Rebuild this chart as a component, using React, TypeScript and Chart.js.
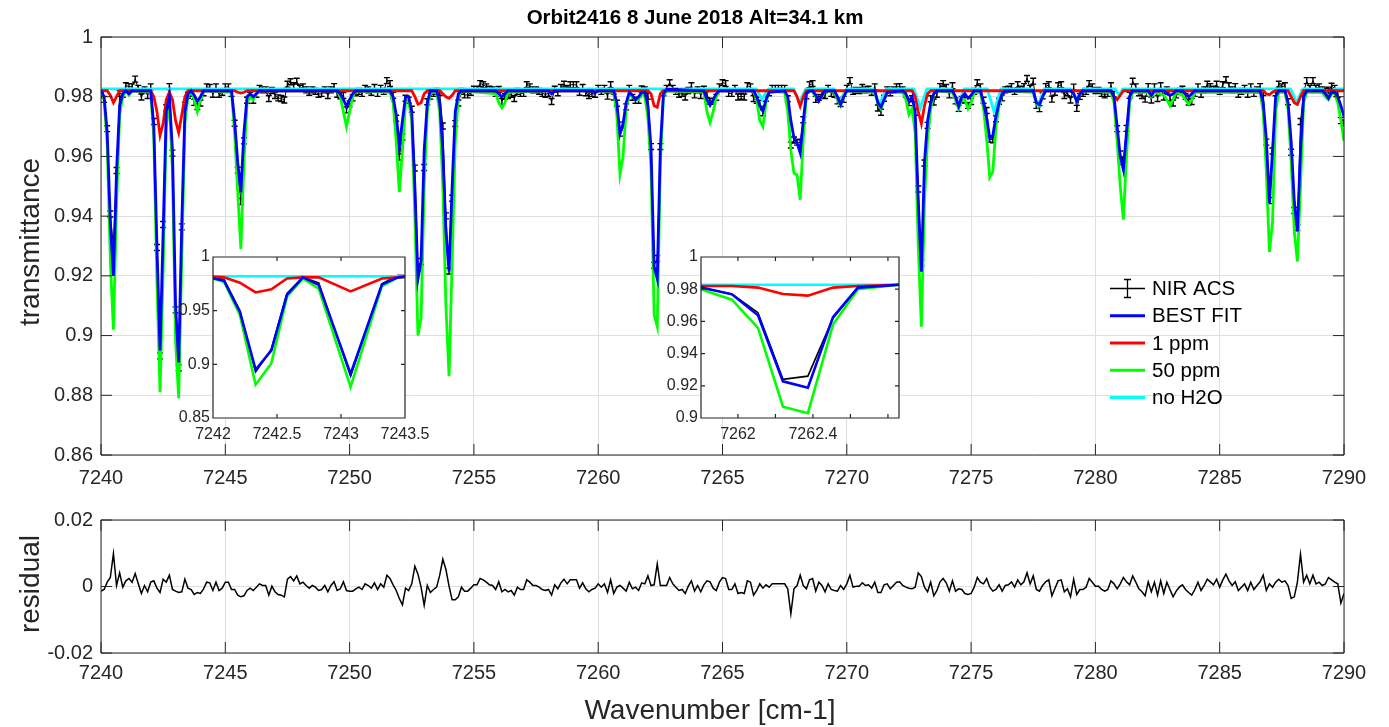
import React, { useEffect, useRef } from "react";
import { Chart, registerables } from "chart.js";

Chart.register(...registerables);

const FONT = "'Liberation Sans', Arial, Helvetica, sans-serif";
const INK = "#262626";
const GRID = "#dfdfdf";
const BLUE = "#0000ff";
const RED = "#ff0000";
const GREEN = "#00ff00";
const CYAN = "#00ffff";
const BLACK = "#000000";

const titleText = "Orbit2416 8 June 2018 Alt=34.1 km";
const xTitleText = "Wavenumber [cm-1]";

// ---------- tick values ----------
const mainXTicks = [7240, 7245, 7250, 7255, 7260, 7265, 7270, 7275, 7280, 7285, 7290];
const mainYTicks = [0.86, 0.88, 0.9, 0.92, 0.94, 0.96, 0.98, 1];
const resYTicks = [-0.02, 0, 0.02];
const inset1XTicks = [7242, 7242.5, 7243, 7243.5];
const inset1YTicks = [0.85, 0.9, 0.95, 1];
const inset2XTicks = [7262, 7262.2, 7262.4, 7262.6, 7262.8];
const inset2XLabels = [7262, 7262.4];
const inset2YTicks = [0.9, 0.92, 0.94, 0.96, 0.98, 1];

// ---------- NIR ACS measured transmittance (sampled every 0.125 cm-1 from 7240) ----------
const nirAcsT = [
  0.9806, 0.9791, 0.9693, 0.9407, 0.9299, 0.9553, 0.9811, 0.9808, 0.9837, 0.9834,
  0.9833, 0.9859, 0.9828, 0.9799, 0.9823, 0.9804, 0.9833, 0.9717, 0.9295, 0.8932,
  0.9372, 0.9763, 0.9834, 0.9611, 0.9086, 0.8892, 0.9364, 0.9772, 0.9805, 0.9811,
  0.9781, 0.9767, 0.9779, 0.9813, 0.9833, 0.9831, 0.9808, 0.9833, 0.9808, 0.9815,
  0.9833, 0.9833, 0.9811, 0.9711, 0.9554, 0.9449, 0.9652, 0.9788, 0.9805, 0.9788,
  0.9808, 0.9828, 0.9823, 0.9823, 0.9794, 0.9821, 0.9804, 0.9796, 0.9794, 0.9789,
  0.9842, 0.985, 0.9837, 0.9852, 0.9828, 0.9833, 0.9823, 0.9815, 0.9823, 0.9818,
  0.9808, 0.9811, 0.9823, 0.9804, 0.9823, 0.9834, 0.9808, 0.9803, 0.9804, 0.9756,
  0.9776, 0.9796, 0.9813, 0.9818, 0.9811, 0.9828, 0.9823, 0.9815, 0.9831, 0.9811,
  0.9828, 0.9818, 0.9854, 0.9844, 0.9805, 0.9728, 0.9598, 0.9665, 0.9795, 0.9788,
  0.9758, 0.9561, 0.9227, 0.9248, 0.9563, 0.9783, 0.9802, 0.9811, 0.9818, 0.9814,
  0.9702, 0.9401, 0.9216, 0.946, 0.971, 0.9779, 0.9818, 0.9806, 0.9806, 0.9815,
  0.9825, 0.9825, 0.9844, 0.984, 0.9833, 0.9825, 0.9823, 0.9811, 0.9824, 0.9784,
  0.9801, 0.9804, 0.9808, 0.9794, 0.9818, 0.9811, 0.9811, 0.984, 0.9833, 0.9823,
  0.9823, 0.9818, 0.9811, 0.9808, 0.9811, 0.9784, 0.9825, 0.9813, 0.9831, 0.9842,
  0.9828, 0.984, 0.984, 0.984, 0.9815, 0.9831, 0.9813, 0.9804, 0.9811, 0.9808,
  0.9828, 0.9818, 0.9828, 0.9802, 0.984, 0.9799, 0.9778, 0.9678, 0.9705, 0.9766,
  0.9828, 0.9798, 0.9788, 0.9788, 0.9826, 0.9823, 0.9802, 0.9633, 0.9235, 0.9258,
  0.9633, 0.9813, 0.9828, 0.9847, 0.9828, 0.9818, 0.9808, 0.9811, 0.9799, 0.9821,
  0.9837, 0.9806, 0.9823, 0.9804, 0.9825, 0.9807, 0.9785, 0.9785, 0.9798, 0.9833,
  0.9847, 0.9844, 0.9811, 0.9811, 0.9828, 0.9799, 0.9802, 0.9799, 0.9837, 0.9833,
  0.9794, 0.9788, 0.9778, 0.9746, 0.9795, 0.9813, 0.9828, 0.9828, 0.9828, 0.9828,
  0.9828, 0.9793, 0.9638, 0.9655, 0.9648, 0.9646, 0.9723, 0.9803, 0.984, 0.9844,
  0.9791, 0.9798, 0.9808, 0.9804, 0.9828, 0.9811, 0.9808, 0.9786, 0.9777, 0.9791,
  0.9828, 0.9854, 0.9818, 0.9821, 0.9821, 0.9831, 0.9823, 0.9825, 0.9815, 0.9833,
  0.9762, 0.9748, 0.9795, 0.9823, 0.9813, 0.9823, 0.9833, 0.9834, 0.9823, 0.9808,
  0.978, 0.9793, 0.9748, 0.9491, 0.9244, 0.9578, 0.9704, 0.9793, 0.9782, 0.9808,
  0.9834, 0.9844, 0.9831, 0.9806, 0.9837, 0.9786, 0.9761, 0.9791, 0.9789, 0.9771,
  0.9784, 0.9818, 0.9847, 0.9833, 0.9788, 0.9754, 0.9658, 0.9656, 0.9726, 0.9785,
  0.9796, 0.9823, 0.9825, 0.9834, 0.9818, 0.984, 0.9825, 0.9834, 0.9861, 0.9828,
  0.9852, 0.9771, 0.976, 0.9803, 0.9834, 0.984, 0.9792, 0.9815, 0.9837, 0.984,
  0.9804, 0.9813, 0.9789, 0.9832, 0.9761, 0.9801, 0.9811, 0.9818, 0.9844, 0.9833,
  0.9821, 0.9821, 0.9811, 0.9806, 0.9811, 0.9837, 0.9808, 0.9693, 0.9608, 0.9583,
  0.9694, 0.9805, 0.9852, 0.9833, 0.9813, 0.9804, 0.9792, 0.9834, 0.9789, 0.9833,
  0.9794, 0.9837, 0.9799, 0.9823, 0.9796, 0.9779, 0.9806, 0.9818, 0.9825, 0.9801,
  0.9782, 0.9784, 0.9811, 0.9833, 0.9808, 0.9823, 0.9842, 0.9834, 0.9825, 0.9842,
  0.9818, 0.984, 0.9857, 0.9837, 0.9823, 0.9834, 0.9808, 0.9818, 0.9828, 0.9808,
  0.9833, 0.9811, 0.9823, 0.9834, 0.9814, 0.9648, 0.9452, 0.9618, 0.9813, 0.9842,
  0.9833, 0.9837, 0.9783, 0.9614, 0.9419, 0.9362, 0.9717, 0.9813, 0.9854, 0.9828,
  0.9854, 0.9828, 0.9833, 0.9823, 0.9818, 0.9822, 0.9835, 0.9828, 0.9808, 0.972,
  0.9712,
];
const nirAcsErr = 0.001;

// ---------- residual (same sampling) ----------
const residualT = [
  -0.0014, -0.0009, 0.0013, 0.0027, 0.0099, 0.0003, 0.0041, -0.0002, 0.0017, 0.0024,
  0.0013, 0.0039, 0.0008, -0.0021, 0.0003, -0.0016, 0.0013, 0.0017, -0.0005, -0.0018,
  0.0022, 0.0013, 0.0034, -0.0009, -0.0014, -0.0018, -0.0016, 0.0022, -0.0005, -0.0009,
  -0.0024, -0.0018, -0.0021, -0.0007, 0.0013, 0.0011, -0.0012, 0.0013, -0.0012, -0.0005,
  0.0013, 0.0013, -0.0009, -0.0009, -0.0026, -0.0031, -0.0028, -0.0012, -0.0005, -0.0012,
  -0.0002, 0.0008, 0.0003, 0.0003, -0.0026, 0.0001, -0.0016, -0.0024, -0.0026, -0.0031,
  0.0022, 0.003, 0.0017, 0.0032, 0.0008, 0.0013, 0.0003, -0.0005, 0.0003, -0.0002,
  -0.0012, -0.0009, 0.0003, -0.0016, 0.0003, 0.0014, -0.0012, -0.0007, 0.0014, -0.0012,
  -0.0014, -0.0014, -0.0007, -0.0002, -0.0009, 0.0008, 0.0003, -0.0005, 0.0011, -0.0009,
  0.0008, -0.0002, 0.0034, 0.0024, 0.0005, -0.0012, -0.0036, -0.0055, -0.0005, -0.0012,
  0.0008, 0.0061, 0.0037, -0.0002, -0.0057, 0.0003, -0.0018, -0.0009, -0.0002, 0.0034,
  0.0082, 0.0051, 0.0001, -0.004, -0.004, -0.0031, -0.0002, -0.0014, -0.0014, -0.0005,
  0.0005, 0.0005, 0.0024, 0.002, 0.0013, 0.0005, 0.0003, -0.0009, 0.0014, -0.0016,
  -0.0009, -0.0016, -0.0012, -0.0026, -0.0002, -0.0009, -0.0009, 0.002, 0.0013, 0.0003,
  0.0003, -0.0002, -0.0009, -0.0012, -0.0009, -0.0026, 0.0005, -0.0007, 0.0011, 0.0022,
  0.0008, 0.002, 0.002, 0.002, -0.0005, 0.0011, -0.0007, -0.0016, -0.0009, -0.0005,
  0.0008, -0.0002, 0.0008, -0.0018, 0.002, -0.0021, -0.0002, 0.0003, -0.0005, -0.0014,
  0.0013, -0.0007, -0.0002, -0.0012, 0.0011, 0.0008, 0.0032, 0.0003, 0.0005, 0.0068,
  0.0003, 0.0003, 0.0003, 0.0027, 0.0008, -0.0002, -0.0012, -0.0009, -0.0021, 0.0001,
  0.0017, -0.0014, 0.0003, -0.0016, 0.0005, 0.0017, 0.0014, -0.0005, -0.0012, 0.0013,
  0.0027, 0.0024, -0.0009, -0.0009, 0.0008, -0.0021, -0.0018, -0.0021, 0.0017, 0.0013,
  -0.0026, -0.0012, 0.0008, -0.0005, 0.0005, -0.0002, 0.0008, 0.0008, 0.0008, 0.0008,
  0.0008, -0.0007, -0.0082, -0.0007, 0.0003, 0.0034, 0.0003, -0.0007, 0.002, 0.0024,
  -0.0014, 0.0013, 0.0003, -0.0016, 0.0008, -0.0009, -0.0012, -0.0014, 0.0003, -0.0009,
  0.0008, 0.0034, -0.0002, 0.0001, 0.0001, 0.0011, 0.0003, 0.0005, -0.0005, 0.0013,
  -0.0018, -0.0018, 0.0005, 0.0008, -0.0007, 0.0003, 0.0013, 0.0014, 0.0003, -0.0002,
  -0.0005, -0.0007, -0.0002, 0.0041, 0.003, -0.0002, -0.0016, 0.0013, -0.0028, -0.0012,
  0.0014, 0.0024, 0.0011, -0.0014, 0.0017, -0.0014, -0.0007, -0.0009, -0.0021, -0.0024,
  -0.0021, -0.0002, 0.0027, 0.0013, 0.0008, 0.0024, -0.0002, -0.0014, -0.0009, 0.0005,
  -0.0014, 0.0003, 0.0005, 0.0014, -0.0002, 0.002, 0.0005, 0.0014, 0.0041, 0.0008,
  0.0032, -0.0009, -0.0014, 0.0003, 0.0014, 0.002, -0.0028, -0.0005, 0.0017, 0.002,
  -0.0016, -0.0007, -0.0031, 0.0022, -0.0024, -0.0009, -0.0009, -0.0002, 0.0024, 0.0013,
  0.0001, 0.0001, -0.0009, -0.0014, -0.0009, 0.0017, 0.0008, -0.0007, 0.0008, 0.0027,
  0.0014, 0.0005, 0.0032, 0.0013, -0.0007, -0.0016, -0.0028, 0.0014, -0.0016, 0.0013,
  -0.0026, 0.0017, -0.0021, 0.0013, -0.0009, -0.0031, -0.0014, -0.0002, 0.0005, -0.0009,
  -0.0018, -0.0026, -0.0009, 0.0013, -0.0012, 0.0003, 0.0022, 0.0014, 0.0005, 0.0022,
  -0.0002, 0.002, 0.0037, 0.0017, 0.0003, 0.0014, -0.0012, -0.0002, 0.0008, -0.0012,
  0.0013, -0.0009, 0.0003, 0.0014, 0.0034, -0.0012, 0.0008, -0.0002, 0.0013, 0.0022,
  0.0013, 0.0017, 0.0003, -0.0036, -0.0031, 0.0013, 0.0097, 0.0013, 0.0034, 0.0008,
  0.0034, 0.0008, 0.0013, 0.0003, 0.0008, 0.0027, 0.002, 0.0013, 0.0008, -0.005,
  -0.0021,
];

// ---------- model spectra: BEST FIT and 50 ppm share a wavenumber list ----------
const fitWn = [
  7240, 7240.125, 7240.25, 7240.375, 7240.5, 7240.625, 7240.75, 7240.875, 7241, 7241.125, 7241.25,
  7242, 7242.125, 7242.25, 7242.375, 7242.5, 7242.625, 7242.75, 7242.875, 7243, 7243.125, 7243.25, 7243.375, 7243.5, 7243.625, 7243.75, 7243.875, 7244, 7244.125,
  7245.25, 7245.375, 7245.5, 7245.625, 7245.75, 7245.875, 7246, 7246.125, 7246.25, 7246.375,
  7249.5, 7249.625, 7249.75, 7249.875, 7250, 7250.125, 7250.25,
  7251.625, 7251.75, 7251.875, 7252, 7252.125, 7252.25, 7252.375, 7252.5, 7252.625, 7252.75, 7252.875, 7253, 7253.125, 7253.25,
  7253.5, 7253.625, 7253.75, 7253.875, 7254, 7254.125, 7254.25, 7254.375, 7254.5,
  7255.875, 7256, 7256.125, 7256.25, 7256.375,
  7258, 7258.125, 7258.25,
  7259.75, 7259.875, 7260,
  7260.625, 7260.75, 7260.875, 7261, 7261.125, 7261.25, 7261.375, 7261.5, 7261.625, 7261.75, 7261.875, 7262, 7262.125, 7262.25, 7262.375, 7262.5, 7262.625, 7262.75,
  7264.25, 7264.375, 7264.5, 7264.625, 7264.75, 7264.875,
  7266.25, 7266.375, 7266.5, 7266.625, 7266.75, 7266.875,
  7267.5, 7267.625, 7267.75, 7267.875, 7268, 7268.125, 7268.25, 7268.375, 7268.5, 7268.625, 7268.75, 7268.875, 7269, 7269.125,
  7269.5, 7269.625, 7269.75, 7269.875, 7270,
  7271.125, 7271.25, 7271.375, 7271.5, 7271.625,
  7272.25, 7272.375, 7272.5, 7272.625, 7272.75, 7272.875, 7273, 7273.125, 7273.25, 7273.375, 7273.5, 7273.625,
  7274.25, 7274.375, 7274.5, 7274.625, 7274.75, 7274.875, 7275, 7275.125,
  7275.375, 7275.5, 7275.625, 7275.75, 7275.875, 7276, 7276.125, 7276.25, 7276.375,
  7277.5, 7277.625, 7277.75, 7277.875, 7278,
  7279, 7279.125, 7279.25, 7279.375, 7279.5,
  7280.625, 7280.75, 7280.875, 7281, 7281.125, 7281.25, 7281.375, 7281.5,
  7282.125, 7282.25, 7282.375,
  7282.75, 7282.875, 7283, 7283.125, 7283.25,
  7283.5, 7283.625, 7283.75, 7283.875, 7284,
  7286.625, 7286.75, 7286.875, 7287, 7287.125, 7287.25, 7287.375,
  7287.625, 7287.75, 7287.875, 7288, 7288.125, 7288.25, 7288.375, 7288.5,
  7289.125, 7289.25, 7289.375, 7289.5, 7289.625, 7289.75, 7289.875, 7290,
];
const fitT = [
  0.982, 0.98, 0.968, 0.938, 0.92, 0.955, 0.977, 0.981, 0.982, 0.981, 0.982,
  0.982, 0.97, 0.93, 0.895, 0.935, 0.975, 0.98, 0.962, 0.91, 0.891, 0.938, 0.975, 0.981, 0.982, 0.9805, 0.9785, 0.98, 0.982,
  0.982, 0.972, 0.958, 0.948, 0.968, 0.98, 0.981, 0.98, 0.981, 0.982,
  0.982, 0.981, 0.979, 0.9768, 0.979, 0.981, 0.982,
  0.982, 0.98, 0.974, 0.9634, 0.972, 0.98, 0.98, 0.975, 0.95, 0.919, 0.925, 0.962, 0.978, 0.982,
  0.982, 0.978, 0.962, 0.935, 0.9215, 0.95, 0.975, 0.981, 0.982,
  0.982, 0.981, 0.98, 0.981, 0.982,
  0.982, 0.981, 0.982,
  0.982, 0.9813, 0.982,
  0.982, 0.978, 0.9675, 0.971, 0.978, 0.9815, 0.9805, 0.979, 0.98, 0.9815, 0.9815, 0.977, 0.963, 0.923, 0.919, 0.963, 0.981, 0.9825,
  0.982, 0.979, 0.9771, 0.979, 0.981, 0.982,
  0.982, 0.98, 0.977, 0.9751, 0.979, 0.9815,
  0.982, 0.98, 0.972, 0.9662, 0.9645, 0.9612, 0.972, 0.981, 0.982, 0.982, 0.9805, 0.9785, 0.9805, 0.982,
  0.982, 0.98, 0.9774, 0.98, 0.982,
  0.982, 0.978, 0.9766, 0.979, 0.9815,
  0.982, 0.981, 0.9785, 0.98, 0.975, 0.945, 0.9214, 0.958, 0.972, 0.978, 0.981, 0.982,
  0.982, 0.98, 0.9768, 0.98, 0.981, 0.9795, 0.9805, 0.982,
  0.982, 0.978, 0.973, 0.966, 0.967, 0.9735, 0.978, 0.981, 0.982,
  0.982, 0.978, 0.9774, 0.98, 0.982,
  0.982, 0.981, 0.9785, 0.981, 0.982,
  0.982, 0.98, 0.97, 0.96, 0.9556, 0.968, 0.98, 0.982,
  0.982, 0.9805, 0.982,
  0.982, 0.981, 0.9805, 0.981, 0.982,
  0.982, 0.981, 0.98, 0.981, 0.982,
  0.982, 0.978, 0.966, 0.9444, 0.962, 0.98, 0.982,
  0.982, 0.978, 0.965, 0.945, 0.9349, 0.962, 0.98, 0.982,
  0.982, 0.981, 0.9795, 0.9815, 0.9815, 0.98, 0.977, 0.9733,
];
const ppm50T = [
  0.9815, 0.979, 0.964, 0.925, 0.902, 0.944, 0.974, 0.98, 0.982, 0.9805, 0.982,
  0.9815, 0.966, 0.918, 0.881, 0.922, 0.97, 0.979, 0.955, 0.898, 0.879, 0.926, 0.971, 0.98, 0.982, 0.979, 0.975, 0.979, 0.982,
  0.9815, 0.968, 0.948, 0.929, 0.958, 0.978, 0.98, 0.979, 0.981, 0.982,
  0.982, 0.98, 0.975, 0.97, 0.975, 0.98, 0.982,
  0.9815, 0.978, 0.965, 0.948, 0.962, 0.978, 0.979, 0.972, 0.94, 0.9, 0.906, 0.95, 0.975, 0.9815,
  0.9815, 0.975, 0.95, 0.91, 0.8864, 0.925, 0.965, 0.98, 0.982,
  0.981, 0.978, 0.9763, 0.978, 0.9815,
  0.982, 0.9815, 0.982,
  0.982, 0.9815, 0.982,
  0.9815, 0.974, 0.954, 0.96, 0.976, 0.981, 0.98, 0.979, 0.979, 0.981, 0.98, 0.973, 0.956, 0.907, 0.903, 0.958, 0.98, 0.982,
  0.9815, 0.975, 0.9714, 0.975, 0.98, 0.982,
  0.982, 0.979, 0.972, 0.97, 0.978, 0.982,
  0.9815, 0.975, 0.962, 0.9544, 0.9538, 0.9455, 0.966, 0.981, 0.982, 0.9815, 0.98, 0.979, 0.98, 0.982,
  0.9815, 0.979, 0.977, 0.98, 0.982,
  0.9815, 0.978, 0.976, 0.979, 0.9815,
  0.9815, 0.979, 0.974, 0.976, 0.968, 0.93, 0.903, 0.945, 0.966, 0.976, 0.981, 0.982,
  0.9815, 0.979, 0.976, 0.979, 0.979, 0.976, 0.978, 0.9815,
  0.9815, 0.976, 0.966, 0.953, 0.955, 0.97, 0.977, 0.981, 0.982,
  0.9815, 0.978, 0.977, 0.98, 0.982,
  0.982, 0.981, 0.9785, 0.981, 0.982,
  0.9815, 0.978, 0.965, 0.95, 0.9388, 0.96, 0.978, 0.9815,
  0.9815, 0.98, 0.9815,
  0.9805, 0.979, 0.977, 0.979, 0.9815,
  0.9805, 0.979, 0.9775, 0.979, 0.9815,
  0.9815, 0.975, 0.955, 0.928, 0.938, 0.975, 0.9815,
  0.9815, 0.976, 0.958, 0.935, 0.9248, 0.95, 0.978, 0.9815,
  0.9815, 0.98, 0.979, 0.981, 0.981, 0.978, 0.972, 0.9652,
];

// ---------- 1 ppm ----------
const ppm1Wn = [
  7240, 7240.25, 7240.375, 7240.5, 7240.625, 7240.75,
  7242, 7242.125, 7242.25, 7242.375, 7242.5, 7242.625, 7242.75, 7242.875, 7243, 7243.125, 7243.25, 7243.375, 7243.5,
  7245.375, 7245.5, 7245.625, 7245.75, 7245.875,
  7252.5, 7252.625, 7252.75, 7252.875, 7253, 7253.125,
  7253.625, 7253.75, 7253.875, 7254, 7254.125, 7254.25,
  7262, 7262.125, 7262.25, 7262.375, 7262.5, 7262.625,
  7267.875, 7268, 7268.125, 7268.25, 7268.375,
  7272.625, 7272.75, 7272.875, 7273, 7273.125, 7273.25, 7273.375,
  7280.625, 7280.75, 7280.875, 7281, 7281.125,
  7286.75, 7286.875, 7287, 7287.125, 7287.25,
  7287.75, 7287.875, 7288, 7288.125, 7288.25, 7288.375,
  7290,
];
const ppm1T = [
  0.982, 0.982, 0.9805, 0.978, 0.98, 0.982,
  0.982, 0.98, 0.975, 0.967, 0.971, 0.979, 0.9815, 0.979, 0.972, 0.968, 0.974, 0.98, 0.982,
  0.982, 0.9815, 0.9812, 0.9815, 0.982,
  0.982, 0.98, 0.9775, 0.978, 0.981, 0.982,
  0.982, 0.981, 0.98, 0.9795, 0.9805, 0.982,
  0.982, 0.981, 0.977, 0.9765, 0.981, 0.982,
  0.982, 0.98, 0.9768, 0.98, 0.982,
  0.982, 0.98, 0.975, 0.971, 0.977, 0.981, 0.982,
  0.982, 0.98, 0.979, 0.9805, 0.982,
  0.982, 0.981, 0.9807, 0.9815, 0.982,
  0.982, 0.98, 0.978, 0.9774, 0.98, 0.982,
  0.982,
];

// ---------- no H2O ----------
const noH2OWn = [
  7240, 7263.0, 7263.15, 7263.3,
  7266.35, 7266.47, 7266.6, 7266.72, 7266.85,
  7267.85, 7267.97, 7268.1, 7268.22, 7268.35,
  7269.48, 7269.6, 7269.73, 7269.85, 7269.98,
  7271.05, 7271.18, 7271.32, 7271.45, 7271.58,
  7272.7, 7272.83, 7272.96, 7273.09, 7273.22,
  7274.22, 7274.35, 7274.47, 7274.6, 7274.72,
  7275.65, 7275.78, 7275.92, 7276.05, 7276.2,
  7277.44, 7277.56, 7277.69, 7277.82, 7277.94,
  7279.0, 7279.12, 7279.25, 7279.38, 7279.5,
  7280.8, 7280.95, 7281.1,
  7287.85, 7287.97, 7288.1, 7288.22, 7288.35,
  7289.15, 7289.27, 7289.38, 7289.5, 7289.62,
  7290,
];
const noH2OT = [
  0.9826, 0.9826, 0.9815, 0.9826,
  0.9826, 0.981, 0.979, 0.981, 0.9826,
  0.9826, 0.9805, 0.978, 0.9805, 0.9826,
  0.9826, 0.9805, 0.978, 0.9805, 0.9826,
  0.9826, 0.98, 0.9775, 0.98, 0.9826,
  0.9826, 0.9795, 0.9763, 0.9795, 0.9826,
  0.9826, 0.98, 0.977, 0.98, 0.9826,
  0.9826, 0.979, 0.975, 0.9785, 0.9826,
  0.9826, 0.98, 0.977, 0.98, 0.9826,
  0.9826, 0.981, 0.979, 0.981, 0.9826,
  0.9826, 0.9805, 0.9826,
  0.9826, 0.9805, 0.978, 0.9805, 0.9826,
  0.9826, 0.981, 0.98, 0.981, 0.9826,
  0.9826,
];

// ---------- inset 1 ----------
const inset1Wn = [7241.962, 7242.086, 7242.21, 7242.333, 7242.456, 7242.578, 7242.703, 7242.826, 7243.075, 7243.32, 7243.445, 7243.568];
const inset1Data = [0.9812, 0.979, 0.95, 0.893, 0.914, 0.966, 0.981, 0.976, 0.889, 0.975, 0.983, 0.9825];
const inset1Fit = [0.9812, 0.978, 0.949, 0.895, 0.913, 0.965, 0.981, 0.974, 0.891, 0.9745, 0.981, 0.9825];
const inset1Ppm50 = [0.981, 0.977, 0.946, 0.881, 0.901, 0.963, 0.98, 0.9705, 0.879, 0.973, 0.981, 0.9825];
const inset1Ppm1 = [0.982, 0.981, 0.976, 0.967, 0.97, 0.98, 0.981, 0.981, 0.968, 0.98, 0.981, 0.982];
const inset1NoH2O = [0.982, 0.982, 0.982, 0.982, 0.982, 0.982, 0.982, 0.982, 0.982, 0.982, 0.982, 0.982];

// ---------- inset 2 ----------
const inset2Wn = [7261.8, 7261.968, 7262.107, 7262.24, 7262.373, 7262.507, 7262.64, 7262.86];
const inset2Data = [0.981, 0.977, 0.9654, 0.924, 0.926, 0.962, 0.981, 0.9828];
const inset2Fit = [0.9812, 0.9768, 0.9638, 0.9228, 0.9188, 0.9627, 0.981, 0.9828];
const inset2Ppm50 = [0.98, 0.9735, 0.956, 0.907, 0.903, 0.958, 0.98, 0.9828];
const inset2Ppm1 = [0.982, 0.982, 0.981, 0.977, 0.976, 0.981, 0.982, 0.9828];
const inset2NoH2O = [0.9828, 0.9828, 0.9828, 0.9828, 0.9828, 0.9828, 0.9828, 0.9828];

// sampling grid of the measured spectrum
const nirWn = nirAcsT.map((_, i) => 7240 + i * 0.125);

type Pt = { x: number; y: number };
const pts = (xs: number[], ys: number[]): Pt[] => ys.map((y, i) => ({ x: xs[i], y }));

// ---------- plugins ----------
function bgPlugin(color: string) {
  return {
    id: "bg",
    beforeDraw(chart: any) {
      const { ctx, chartArea: a } = chart;
      ctx.save();
      ctx.fillStyle = color;
      ctx.fillRect(a.left, a.top, a.right - a.left, a.bottom - a.top);
      ctx.restore();
    },
  };
}

function framePlugin(len: number, xMarks: number[], yMarks: number[], lw: number) {
  return {
    id: "frame",
    afterDatasetsDraw(chart: any) {
      const { ctx, chartArea: a, scales } = chart;
      ctx.save();
      ctx.strokeStyle = INK;
      ctx.lineWidth = lw;
      ctx.beginPath();
      for (const v of xMarks) {
        const p = scales.x.getPixelForValue(v);
        ctx.moveTo(p, a.bottom);
        ctx.lineTo(p, a.bottom - len);
        ctx.moveTo(p, a.top);
        ctx.lineTo(p, a.top + len);
      }
      for (const v of yMarks) {
        const p = scales.y.getPixelForValue(v);
        ctx.moveTo(a.left, p);
        ctx.lineTo(a.left + len, p);
        ctx.moveTo(a.right, p);
        ctx.lineTo(a.right - len, p);
      }
      ctx.rect(a.left, a.top, a.right - a.left, a.bottom - a.top);
      ctx.stroke();
      ctx.restore();
    },
  };
}

function errorBarPlugin(dsIndex: number, half: number, cap: number) {
  return {
    id: "errbars",
    afterDatasetDraw(chart: any, args: any) {
      if (args.index !== dsIndex) return;
      const { ctx, chartArea: a, scales } = chart;
      const ds = chart.data.datasets[dsIndex];
      ctx.save();
      ctx.beginPath();
      ctx.rect(a.left, a.top, a.right - a.left, a.bottom - a.top);
      ctx.clip();
      ctx.strokeStyle = BLACK;
      ctx.lineWidth = 1.4;
      ctx.beginPath();
      for (const p of ds.data as Pt[]) {
        const px = scales.x.getPixelForValue(p.x);
        const y1 = scales.y.getPixelForValue(p.y - half);
        const y2 = scales.y.getPixelForValue(p.y + half);
        ctx.moveTo(px, y1);
        ctx.lineTo(px, y2);
        ctx.moveTo(px - cap, y1);
        ctx.lineTo(px + cap, y1);
        ctx.moveTo(px - cap, y2);
        ctx.lineTo(px + cap, y2);
      }
      ctx.stroke();
      ctx.restore();
    },
  };
}

function textPlugin(id: string, text: string, x: number, y: number, font: string, rotate = 0) {
  return {
    id,
    afterDraw(chart: any) {
      const { ctx } = chart;
      ctx.save();
      ctx.font = font;
      ctx.fillStyle = id === "figTitle" ? BLACK : INK;
      ctx.textAlign = "center";
      ctx.textBaseline = "middle";
      ctx.translate(x, y);
      if (rotate) ctx.rotate(rotate);
      ctx.fillText(text, 0, 0);
      ctx.restore();
    },
  };
}

type LegendItem = { label: string; color: string; width: number; err?: boolean };
function legendPlugin(items: LegendItem[], x0: number, y0: number, dy: number, len: number, size: number) {
  return {
    id: "figLegend",
    afterDraw(chart: any) {
      const { ctx } = chart;
      ctx.save();
      ctx.font = `${size}px ${FONT}`;
      ctx.textBaseline = "middle";
      ctx.textAlign = "left";
      items.forEach((it, k) => {
        const yy = y0 + k * dy;
        ctx.strokeStyle = it.color;
        ctx.lineWidth = it.width;
        ctx.beginPath();
        ctx.moveTo(x0, yy);
        ctx.lineTo(x0 + len, yy);
        if (it.err) {
          const cx = x0 + len / 2;
          ctx.moveTo(cx, yy - 9);
          ctx.lineTo(cx, yy + 9);
          ctx.moveTo(cx - 3.5, yy - 9);
          ctx.lineTo(cx + 3.5, yy - 9);
          ctx.moveTo(cx - 3.5, yy + 9);
          ctx.lineTo(cx + 3.5, yy + 9);
        }
        ctx.stroke();
        ctx.fillStyle = BLACK;
        ctx.fillText(it.label, x0 + len + 7, yy + 1);
      });
      ctx.restore();
    },
  };
}

type ScaleOpts = {
  min: number;
  max: number;
  marks: number[];
  label: (v: number) => string;
  font: number;
  pad: number;
  size: number;
  horizontal: boolean;
  grid: boolean;
  title?: string;
  titleSize?: number;
  titlePad?: any;
};
function linScale(o: ScaleOpts) {
  return {
    type: "linear",
    min: o.min,
    max: o.max,
    afterBuildTicks: (s: any) => {
      s.ticks = o.marks.map((v) => ({ value: v }));
    },
    afterFit: (s: any) => {
      if (o.horizontal) s.height = o.size;
      else s.width = o.size;
    },
    ticks: {
      autoSkip: false,
      maxRotation: 0,
      minRotation: 0,
      padding: o.pad,
      color: INK,
      font: { family: FONT, size: o.font },
      callback: (v: any) => o.label(Number(v)),
    },
    grid: { display: o.grid, color: GRID, lineWidth: 1, drawTicks: false },
    border: { display: false },
    title: o.title
      ? { display: true, text: o.title, color: INK, font: { family: FONT, size: o.titleSize }, padding: o.titlePad }
      : { display: false },
  };
}

const line = (label: string, data: Pt[], color: string, width: number, order: number) => ({
  label,
  data,
  borderColor: color,
  backgroundColor: color,
  borderWidth: width,
  pointRadius: 0,
  fill: false,
  tension: 0,
  clip: 0,
  order,
});

const baseOptions = (padding: any, scales: any) => ({
  responsive: false,
  animation: false,
  devicePixelRatio: 1,
  events: [],
  layout: { padding },
  plugins: { legend: { display: false }, tooltip: { enabled: false } },
  scales,
});

const str = (v: number) => String(v);

function mainConfig(): any {
  return {
    type: "line",
    data: {
      datasets: [
        line("NIR ACS", pts(nirWn, nirAcsT), BLACK, 1, 5),
        line("no H2O", pts(noH2OWn, noH2OT), CYAN, 2.8, 4),
        line("50 ppm", pts(fitWn, ppm50T), GREEN, 2.8, 3),
        line("1 ppm", pts(ppm1Wn, ppm1T), RED, 2.8, 2),
        line("BEST FIT", pts(fitWn, fitT), BLUE, 2.8, 1),
      ],
    },
    options: baseOptions(
      { left: 0, right: 45, top: 37, bottom: 0 },
      {
        x: linScale({ min: 7240, max: 7290, marks: mainXTicks, label: str, font: 20, pad: 11, size: 45, horizontal: true, grid: true }),
        y: linScale({ min: 0.86, max: 1, marks: mainYTicks, label: str, font: 20, pad: 8, size: 101, horizontal: false, grid: true }),
      }
    ),
    plugins: [
      errorBarPlugin(0, nirAcsErr, 3),
      framePlugin(11, mainXTicks, mainYTicks, 1),
      textPlugin("figTitle", titleText, 695, 18, `bold 20.5px ${FONT}`),
      textPlugin("yTitle", "transmittance", 31, 242, `28px ${FONT}`, -Math.PI / 2),
      legendPlugin(
        [
          { label: "NIR ACS", color: BLACK, width: 1.3, err: true },
          { label: "BEST FIT", color: BLUE, width: 3 },
          { label: "1 ppm", color: RED, width: 3 },
          { label: "50 ppm", color: GREEN, width: 3 },
          { label: "no H2O", color: CYAN, width: 3 },
        ],
        1110, 288.5, 27.25, 35, 20.5
      ),
    ],
  };
}

function residualConfig(): any {
  return {
    type: "line",
    data: { datasets: [line("residual", pts(nirWn, residualT), BLACK, 1.5, 1)] },
    options: baseOptions(
      { left: 0, right: 45, top: 15, bottom: 0 },
      {
        x: linScale({ min: -0 + 7240, max: 7290, marks: mainXTicks, label: str, font: 20, pad: 8, size: 74, horizontal: true, grid: true }),
        y: linScale({ min: -0.02, max: 0.02, marks: resYTicks, label: str, font: 20, pad: 8, size: 101, horizontal: false, grid: true }),
      }
    ),
    plugins: [
      framePlugin(11, mainXTicks, resYTicks, 1),
      textPlugin("xTitle", xTitleText, 710, 211, `28px ${FONT}`),
      textPlugin("yTitle", "residual", 31, 84, `28px ${FONT}`, -Math.PI / 2),
    ],
  };
}

function insetConfig(
  wn: number[], dat: number[], fit: number[], p50: number[], p1: number[], noh: number[],
  xr: [number, number], yr: [number, number], xMarks: number[], xLabel: (v: number) => string, yMarks: number[],
  yWidth: number, rightPad: number
): any {
  return {
    type: "line",
    data: {
      datasets: [
        line("NIR ACS", pts(wn, dat), BLACK, 1.6, 5),
        line("no H2O", pts(wn, noh), CYAN, 2.6, 4),
        line("50 ppm", pts(wn, p50), GREEN, 2.6, 3),
        line("1 ppm", pts(wn, p1), RED, 2.6, 2),
        line("BEST FIT", pts(wn, fit), BLUE, 2.6, 1),
      ],
    },
    options: baseOptions(
      { left: 0, right: rightPad, top: 17, bottom: 0 },
      {
        x: linScale({ min: xr[0], max: xr[1], marks: xMarks, label: xLabel, font: 16, pad: 7, size: 32, horizontal: true, grid: false }),
        y: linScale({ min: yr[0], max: yr[1], marks: yMarks, label: str, font: 16, pad: 3, size: yWidth, horizontal: false, grid: false }),
      }
    ),
    plugins: [bgPlugin("#ffffff"), framePlugin(4, xMarks, yMarks, 1.2)],
  };
}

function ChartBox({ left, top, width, height, make }: { left: number; top: number; width: number; height: number; make: () => any }) {
  const ref = useRef<HTMLCanvasElement | null>(null);
  useEffect(() => {
    const chart = new Chart(ref.current as HTMLCanvasElement, make());
    return () => chart.destroy();
  }, []);
  return (
    <canvas
      ref={ref}
      width={width}
      height={height}
      style={{ position: "absolute", left, top, width, height }}
    />
  );
}

export default function App() {
  return (
    <div style={{ position: "fixed", left: 0, top: 0, width: 1389, height: 727, background: "#ffffff", overflow: "hidden" }}>
      <ChartBox left={0} top={0} width={1389} height={500} make={mainConfig} />
      <ChartBox left={0} top={500} width={1389} height={227} make={residualConfig} />
      <ChartBox
        left={150}
        top={240}
        width={300}
        height={210}
        make={() =>
          insetConfig(inset1Wn, inset1Data, inset1Fit, inset1Ppm50, inset1Ppm1, inset1NoH2O,
            [7242, 7243.5], [0.85, 1], inset1XTicks, str, inset1YTicks, 63, 45)
        }
      />
      <ChartBox
        left={640}
        top={240}
        width={300}
        height={210}
        make={() =>
          insetConfig(inset2Wn, inset2Data, inset2Fit, inset2Ppm50, inset2Ppm1, inset2NoH2O,
            [7261.803, 7262.859], [0.9, 1], inset2XTicks,
            (v: number) => (inset2XLabels.includes(v) ? String(v) : ""), inset2YTicks, 61, 41)
        }
      />
    </div>
  );
}
